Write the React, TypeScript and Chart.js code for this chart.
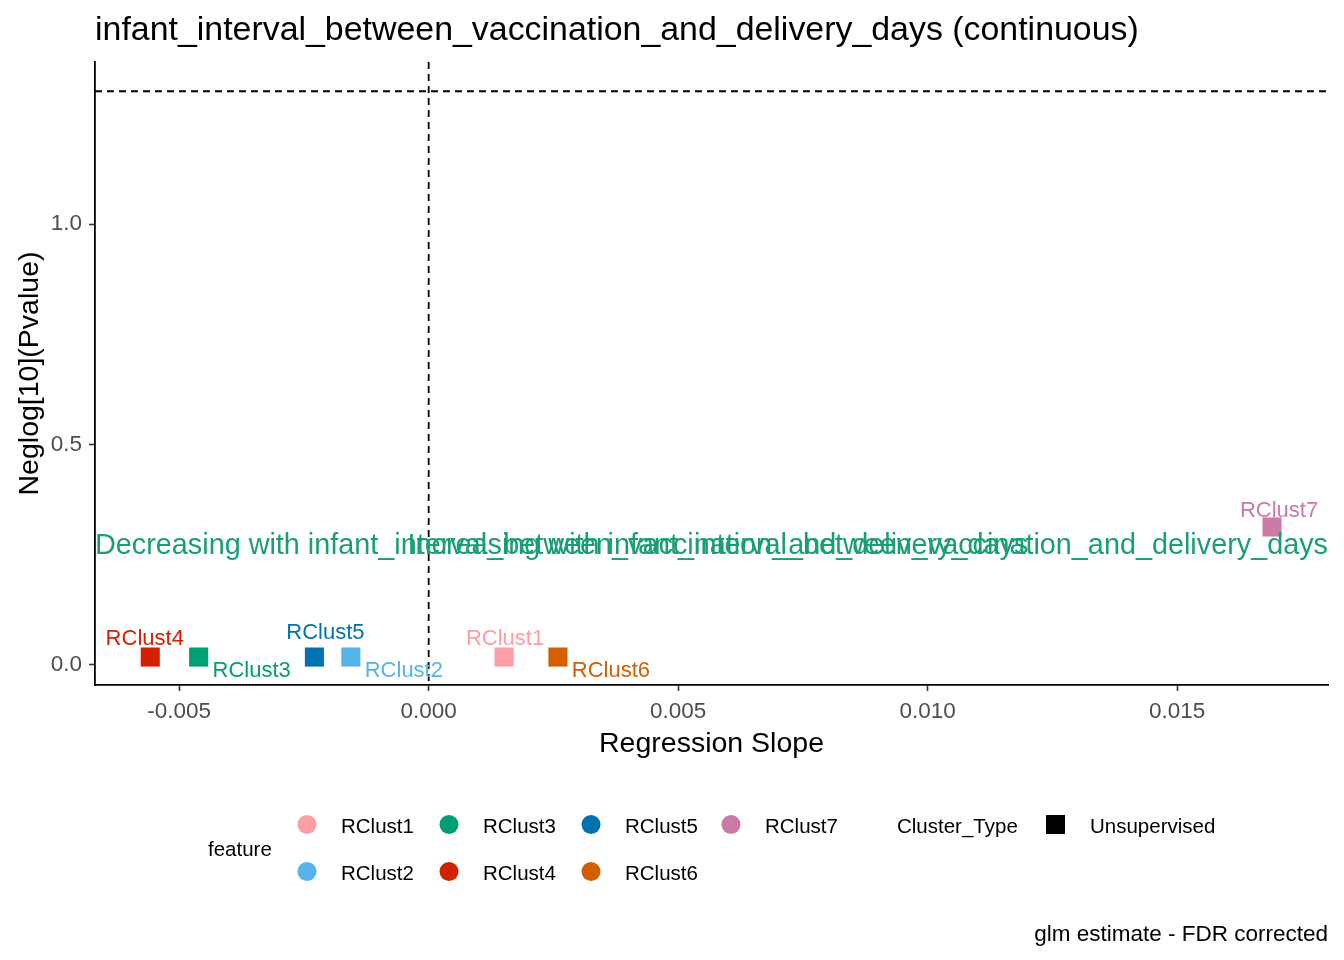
import React, { useEffect, useRef } from 'react';
import { Chart, registerables } from 'chart.js';

Chart.register(...registerables);

// ---- data ----
const FEATURES = ['RClust1', 'RClust2', 'RClust3', 'RClust4', 'RClust5', 'RClust6', 'RClust7'];
const SLOPES = [0.00151, -0.00156, -0.00461, -0.00558, -0.00229, 0.00259, 0.0169];
const NEGLOG_P = [0.018, 0.018, 0.018, 0.018, 0.018, 0.018, 0.313];
const X_TICKS = [-0.005, 0, 0.005, 0.01, 0.015];
const Y_TICKS = [0, 0.5, 1.0];
const X_MIN = -0.006687;
const X_MAX = 0.018022;
const Y_MIN = -0.0454;
const Y_MAX = 1.3674;
const P_THRESHOLD = 0.05;
const ANNOT_Y = 0.274;
const VAR_NAME = 'infant_interval_between_vaccination_and_delivery_days';
const TITLE = `${VAR_NAME} (continuous)`;
const X_TITLE = 'Regression Slope';
const Y_TITLE = 'Neglog[10](Pvalue)';
const CAPTION = 'glm estimate - FDR corrected';
const LEGEND_TITLE = 'feature';
const TYPE_TITLE = 'Cluster_Type';
const TYPE_LABEL = 'Unsupervised';

// ---- styles ----
const COLORS = ['#FF9DA6', '#56B4E9', '#009E73', '#D32000', '#0072B2', '#D55E00', '#CC79A7'];
const ANNOT_COLOR = '#1B9E77';
const FONT = '"Liberation Sans", Arial, Helvetica, sans-serif';
// label offsets (text centre x, baseline y) relative to point, in px (repel placement)
const LABEL_OFFSETS: [number, number][] = [
  [1, -12], [53, 20], [53, 20], [-5.5, -12], [11, -18], [53, 20], [7, -10],
];

const f = (size: number) => `${size}px ${FONT}`;

const overlay = {
  id: 'overlay',
  beforeDatasetsDraw(chart: any) {
    const { ctx, chartArea, scales } = chart;
    const x0 = scales.x.getPixelForValue(0);
    const yT = scales.y.getPixelForValue(-Math.log10(P_THRESHOLD));
    ctx.save();
    ctx.strokeStyle = '#000';
    ctx.lineWidth = 1.8;
    ctx.setLineDash([7, 5]);
    ctx.beginPath();
    ctx.moveTo(chartArea.left, yT);
    ctx.lineTo(chartArea.right, yT);
    ctx.stroke();
    ctx.beginPath();
    ctx.moveTo(x0, chartArea.top);
    ctx.lineTo(x0, chartArea.bottom);
    ctx.stroke();
    ctx.restore();
  },
  afterDatasetsDraw(chart: any) {
    const { ctx, chartArea, scales } = chart;
    ctx.save();
    // direction annotations
    const ya = scales.y.getPixelForValue(ANNOT_Y) + 10;
    ctx.font = f(28.8);
    ctx.fillStyle = ANNOT_COLOR;
    ctx.textBaseline = 'alphabetic';
    ctx.textAlign = 'left';
    ctx.fillText(`Decreasing with ${VAR_NAME}`, chartArea.left, ya);
    ctx.textAlign = 'right';
    ctx.fillText(`Increasing with ${VAR_NAME}`, chartArea.right, ya);
    // point labels
    ctx.font = f(22);
    ctx.textAlign = 'center';
    FEATURES.forEach((name, i) => {
      const px = scales.x.getPixelForValue(SLOPES[i]);
      const py = scales.y.getPixelForValue(NEGLOG_P[i]);
      const [dx, dy] = LABEL_OFFSETS[i];
      ctx.fillStyle = COLORS[i];
      ctx.fillText(name, px + dx, py + dy);
    });
    ctx.restore();
  },
  afterDraw(chart: any) {
    const { ctx, chartArea } = chart;
    ctx.save();
    ctx.fillStyle = '#000';
    ctx.textBaseline = 'alphabetic';
    // title
    ctx.font = f(33.9);
    ctx.textAlign = 'left';
    ctx.fillText(TITLE, chartArea.left, 40);
    // x title
    ctx.font = f(28.5);
    ctx.textAlign = 'center';
    ctx.fillText(X_TITLE, (chartArea.left + chartArea.right) / 2, 752);
    // y title
    ctx.save();
    ctx.translate(38, (chartArea.top + chartArea.bottom) / 2);
    ctx.rotate(-Math.PI / 2);
    ctx.fillText(Y_TITLE, 0, 0);
    ctx.restore();
    // legend
    ctx.font = f(20.5);
    ctx.textAlign = 'left';
    ctx.fillText(LEGEND_TITLE, 208, 856);
    const colX = [307, 449, 591, 731];
    const rowY = [824.5, 871.5];
    FEATURES.forEach((name, i) => {
      const c = Math.floor(i / 2);
      const r = i % 2;
      ctx.fillStyle = COLORS[i];
      ctx.beginPath();
      ctx.arc(colX[c], rowY[r], 9.5, 0, Math.PI * 2);
      ctx.fill();
      ctx.fillStyle = '#000';
      ctx.fillText(name, colX[c] + 34, rowY[r] + 8.5);
    });
    ctx.fillText(TYPE_TITLE, 897, 833);
    ctx.fillRect(1055.5 - 9.5, 824.5 - 9.5, 19, 19);
    ctx.fillText(TYPE_LABEL, 1090, 833);
    // caption
    ctx.font = f(22.5);
    ctx.textAlign = 'right';
    ctx.fillText(CAPTION, chartArea.right, 941);
    ctx.restore();
  },
};

export default function App() {
  const ref = useRef<HTMLCanvasElement>(null);
  useEffect(() => {
    if (!ref.current) return;
    const chart = new Chart(ref.current, {
      type: 'scatter',
      data: {
        datasets: [
          {
            data: FEATURES.map((_, i) => ({ x: SLOPES[i], y: NEGLOG_P[i] })),
            backgroundColor: COLORS,
            borderWidth: 0,
            pointStyle: 'rect',
            pointRadius: 13.5,
            pointHoverRadius: 13.5,
          },
        ],
      },
      options: {
        responsive: false,
        animation: false,
        devicePixelRatio: 1,
        layout: { padding: { top: 62, right: 16, bottom: 0, left: 0 } },
        plugins: {
          legend: { display: false },
          tooltip: { enabled: false },
          title: { display: false },
        },
        scales: {
          x: {
            type: 'linear',
            min: X_MIN,
            max: X_MAX,
            afterBuildTicks: (s: any) => {
              s.ticks = X_TICKS.map((v) => ({ value: v }));
            },
            afterFit: (s: any) => {
              s.height = 275;
            },
            ticks: {
              font: { family: FONT, size: 22.5 },
              color: '#4D4D4D',
              padding: 7,
              maxRotation: 0,
              autoSkip: false,
              callback: (v: any) => Number(v).toFixed(3),
            },
            grid: {
              display: true,
              drawOnChartArea: false,
              drawTicks: true,
              tickLength: 6,
              tickColor: '#333333',
              tickWidth: 1.6,
            },
            border: { display: true, color: '#000', width: 1.8 },
          },
          y: {
            type: 'linear',
            min: Y_MIN,
            max: Y_MAX,
            afterBuildTicks: (s: any) => {
              s.ticks = Y_TICKS.map((v) => ({ value: v }));
            },
            afterFit: (s: any) => {
              s.width = 95;
            },
            ticks: {
              font: { family: FONT, size: 22.5 },
              color: '#4D4D4D',
              padding: 7,
              autoSkip: false,
              callback: (v: any) => Number(v).toFixed(1),
            },
            grid: {
              display: true,
              drawOnChartArea: false,
              drawTicks: true,
              tickLength: 6,
              tickColor: '#333333',
              tickWidth: 1.6,
            },
            border: { display: true, color: '#000', width: 1.8 },
          },
        },
      },
      plugins: [overlay],
    } as any);
    return () => chart.destroy();
  }, []);
  return (
    <div style={{ position: 'fixed', left: 0, top: 0, width: 1344, height: 960, background: '#fff' }}>
      <canvas ref={ref} width={1344} height={960} />
    </div>
  );
}
